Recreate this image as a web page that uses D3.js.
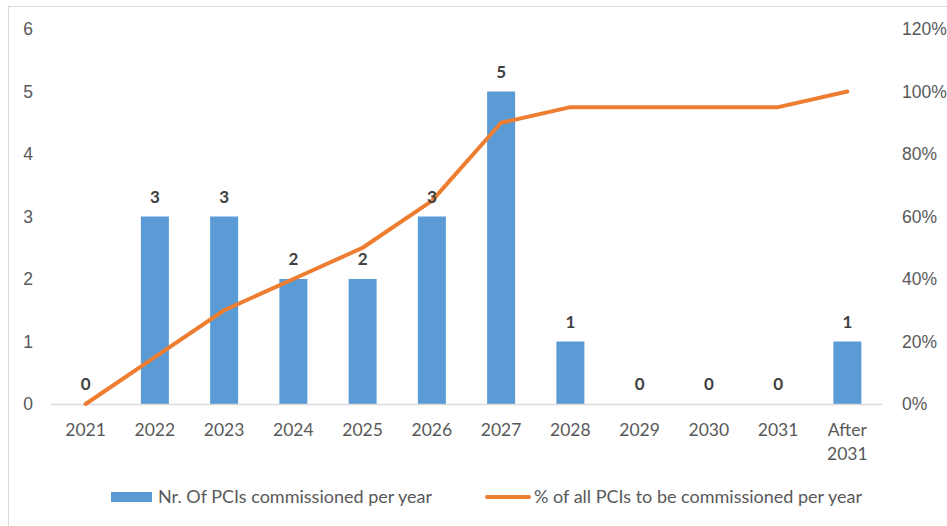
<!DOCTYPE html>
<html lang="en">
<head>
<meta charset="UTF-8">
<title>PCIs commissioned per year</title>
<script src="https://d3js.org/d3.v7.min.js"></script>
<style>
  body { margin: 0; padding: 0; background: #fff; }
  svg { display: block; font-family: Lato, "Open Sans", sans-serif; }
  .tick text { fill: #595959; font-size: 17.5px; }
  .lbl { fill: #404040; font-size: 17px; font-weight: bold; }
  .legend text { fill: #595959; font-size: 18px; }
</style>
</head>
<body>
<svg width="947" height="526"></svg>
<script>
const width = 947, height = 526;

// data
const years = ["2021", "2022", "2023", "2024", "2025", "2026", "2027", "2028", "2029", "2030", "2031", "After 2031"];
const pcis = [0, 3, 3, 2, 2, 3, 5, 1, 0, 0, 0, 1];
const share = [0, 15, 30, 40, 50, 65, 90, 95, 95, 95, 95, 100];
const leftTicks = [0, 1, 2, 3, 4, 5, 6];
const rightTicks = [0, 20, 40, 60, 80, 100, 120];

const svg = d3.select("svg");
const m = { left: 51, right: 882, top: 29, bottom: 404 };

// frame
svg.append("rect")
    .attr("x", 8.5).attr("y", 6.5)
    .attr("width", 960).attr("height", 560)
    .attr("fill", "none").attr("stroke", "#d9d9d9");

const xc = d3.scalePoint().domain(years).range([m.left, m.right]).padding(0.5);
const yL = d3.scaleLinear().domain([0, 6]).range([m.bottom, m.top]);
const yR = d3.scaleLinear().domain([0, 120]).range([m.bottom, m.top]);

// left axis
const gl = svg.append("g").attr("transform", `translate(28,0)`)
    .call(d3.axisLeft(yL).tickValues(leftTicks).tickFormat(d3.format("d")).tickSize(0).tickPadding(0));
gl.select(".domain").remove();
gl.selectAll(".tick text").attr("text-anchor", "middle");

// right axis
const gr = svg.append("g").attr("transform", `translate(902,0)`)
    .call(d3.axisRight(yR).tickValues(rightTicks).tickFormat(d => d + "%").tickSize(0).tickPadding(0));
gr.select(".domain").remove();

// bars
svg.selectAll(".bar").data(years).enter().append("rect")
    .attr("class", "bar")
    .attr("x", d => xc(d) - 14)
    .attr("width", 28)
    .attr("y", (d, i) => yL(pcis[i]))
    .attr("height", (d, i) => yL(0) - yL(pcis[i]))
    .attr("fill", "#5b9bd5");

// baseline
svg.append("line")
    .attr("x1", m.left).attr("x2", m.right)
    .attr("y1", m.bottom + 0.5).attr("y2", m.bottom + 0.5)
    .attr("stroke", "#d9d9d9").attr("stroke-width", 1.5);

// x labels
const xl = svg.append("g");
years.forEach(y => {
    const parts = y.split(" ");
    const t = xl.append("text")
        .attr("x", xc(y)).attr("y", 436)
        .attr("text-anchor", "middle")
        .attr("fill", "#595959").style("font-size", "17.5px");
    parts.forEach((p, k) => {
        t.append("tspan").attr("x", xc(y)).attr("dy", k ? 24 : 0).text(p);
    });
});

// line
const line = d3.line().x((d, i) => xc(years[i])).y(d => yR(d));
svg.append("path")
    .datum(share)
    .attr("d", line)
    .attr("fill", "none")
    .attr("stroke", "#ed7d31")
    .attr("stroke-width", 4)
    .attr("stroke-linejoin", "round")
    .attr("stroke-linecap", "round");

// data labels
svg.selectAll(".lbl").data(years).enter().append("text")
    .attr("class", "lbl")
    .attr("x", d => xc(d))
    .attr("y", (d, i) => yL(pcis[i]) - 14)
    .attr("text-anchor", "middle")
    .text((d, i) => pcis[i]);

// legend
const lg = svg.append("g").attr("class", "legend");
lg.append("rect").attr("x", 111).attr("y", 492).attr("width", 41).attr("height", 10).attr("fill", "#5b9bd5");
lg.append("text").attr("x", 158).attr("y", 503).text("Nr. Of PCIs commissioned per year");
lg.append("line").attr("x1", 487).attr("x2", 529).attr("y1", 497).attr("y2", 497)
    .attr("stroke", "#ed7d31").attr("stroke-width", 4).attr("stroke-linecap", "round");
lg.append("text").attr("x", 534).attr("y", 503).text("% of all PCIs to be commissioned per year");
</script>
</body>
</html>
